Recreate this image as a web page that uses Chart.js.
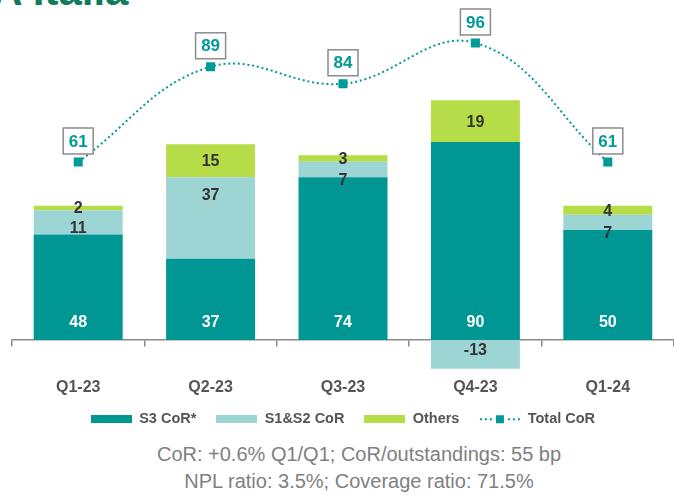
<!DOCTYPE html>
<html>
<head>
<meta charset="utf-8">
<script src="https://cdn.jsdelivr.net/npm/chart.js@4.4.1/dist/chart.umd.min.js"></script>
<style>
  body { margin: 0; width: 674px; height: 495px; overflow: hidden; background: #fff; position: relative; font-family: "Liberation Sans", Arial, sans-serif; }
  #heading { position: absolute; left: -38px; top: -30px; font-size: 42px; line-height: 42px; font-weight: bold; color: #127a5c; white-space: nowrap; }
  #wrap { position: absolute; left: 0; top: 0; width: 674px; height: 440px; }
  #notes { position: absolute; left: 0; top: 441px; width: 674px; padding-left: 44px; box-sizing: border-box; text-align: center; font-size: 20px; line-height: 27px; color: #7f7f7f; }
</style>
</head>
<body>
<div id="heading">CA Italia</div>
<div id="wrap"><canvas id="corChart"></canvas></div>
<div id="notes">CoR: +0.6% Q1/Q1; CoR/outstandings: 55 bp<br>NPL ratio: 3.5%; Coverage ratio: 71.5%</div>
<script>
// Data
const categories = ['Q1-23', 'Q2-23', 'Q3-23', 'Q4-23', 'Q1-24'];
const s3CoR = [48, 37, 74, 90, 50];
const s1s2CoR = [11, 37, 7, -13, 7];
const others = [2, 15, 3, 19, 4];
const totalCoR = [61, 89, 84, 96, 61];

const teal = '#009693';
const lightTeal = '#9dd5d5';
const lime = '#b6dc48';
const lineTeal = '#009a98';

Chart.defaults.font.family = '"Liberation Sans", Arial, sans-serif';

// legend swatches
function swatch(color) {
    const c = document.createElement('canvas');
    c.width = 41; c.height = 8;
    const g = c.getContext('2d');
    g.fillStyle = color;
    g.fillRect(0, 0, 41, 8);
    return c;
}
function lineSwatch() {
    const c = document.createElement('canvas');
    c.width = 42; c.height = 10;
    const g = c.getContext('2d');
    g.fillStyle = lineTeal;
    [1, 6, 11, 29, 34, 39].forEach(x => g.fillRect(x, 4, 2, 2));
    g.fillRect(17, 1, 8, 8);
    return c;
}
const legendStyles = [swatch(teal), swatch(lightTeal), swatch(lime), lineSwatch()];
const legendOrder = [1, 2, 3, 0]; // bars first, then the line

// value labels
const valueLabels = {
    id: 'valueLabels',
    afterDatasetsDraw(chart) {
        const ctx = chart.ctx;
        ctx.save();
        ctx.textAlign = 'center';
        ctx.textBaseline = 'middle';
        chart.data.datasets.forEach((ds, di) => {
            const meta = chart.getDatasetMeta(di);
            meta.data.forEach((el, i) => {
                const v = ds.data[i];
                if (ds.type === 'line') {
                    const cy = el.y - 21;
                    ctx.fillStyle = '#fff';
                    ctx.fillRect(el.x - 15, cy - 13, 30, 26);
                    ctx.strokeStyle = '#8c8c8c';
                    ctx.lineWidth = 1.5;
                    ctx.strokeRect(el.x - 15, cy - 13, 30, 26);
                    ctx.font = 'bold 17px "Liberation Sans", Arial';
                    ctx.fillStyle = lineTeal;
                    ctx.fillText(v, el.x, cy + 1);
                    return;
                }
                ctx.font = 'bold 16px "Liberation Sans", Arial';
                let y;
                if (di === 1) {
                    ctx.fillStyle = '#fff';
                    y = el.base - 17;
                } else if (di === 2) {
                    ctx.fillStyle = '#333';
                    y = v >= 0 ? el.y + 18.5 : el.y - 18;
                } else {
                    ctx.fillStyle = '#333';
                    y = (el.y + el.base) / 2 + 1;
                }
                ctx.fillText(v, el.x, y);
            });
        });
        ctx.restore();
    }
};

const ctx = document.getElementById('corChart').getContext('2d');
new Chart(ctx, {
    data: {
        labels: categories,
        datasets: [
            {
                type: 'line',
                label: 'Total CoR',
                data: totalCoR,
                yAxisID: 'y2',
                order: 0,
                borderColor: lineTeal,
                borderWidth: 2,
                borderDash: [2, 2.8],
                tension: 0.4,
                fill: false,
                pointStyle: 'rect',
                pointRadius: 6.4,
                pointBackgroundColor: lineTeal,
                pointBorderWidth: 0
            },
            {
                type: 'bar',
                label: 'S3 CoR*',
                data: s3CoR,
                backgroundColor: teal,
                order: 1
            },
            {
                type: 'bar',
                label: 'S1&S2 CoR',
                data: s1s2CoR,
                backgroundColor: lightTeal,
                order: 1
            },
            {
                type: 'bar',
                label: 'Others',
                data: others,
                backgroundColor: lime,
                order: 1
            }
        ]
    },
    options: {
        responsive: true,
        maintainAspectRatio: false,
        animation: false,
        layout: { autoPadding: false, padding: { left: 12, right: 0, top: 20, bottom: 3.5 } },
        datasets: {
            bar: { categoryPercentage: 1, barPercentage: 0.672 }
        },
        scales: {
            x: {
                stacked: true,
                position: { y: 0 },
                afterFit(scale) {
                    scale.paddingLeft = 0;
                    scale.paddingRight = 0;
                },
                grid: { offset: true, drawOnChartArea: false, tickLength: 6, color: '#8a8a8a', lineWidth: 1.5 },
                border: { display: true, color: '#8a8a8a', width: 1.5 },
                ticks: { padding: 32, color: '#555', font: { size: 16, weight: 'bold' } }
            },
            y: {
                stacked: true,
                display: false,
                min: -23.6,
                max: 145.45
            },
            y2: {
                display: false,
                min: -6.65,
                max: 102.76
            }
        },
        plugins: {
            tooltip: { enabled: false },
            legend: {
                position: 'bottom',
                labels: {
                    usePointStyle: true,
                    pointStyleWidth: 41,
                    padding: 20,
                    color: '#555',
                    font: { size: 14.5, weight: 'bold' },
                    sort: (a, b) => legendOrder.indexOf(a.datasetIndex) - legendOrder.indexOf(b.datasetIndex),
                    generateLabels(chart) {
                        const items = Chart.defaults.plugins.legend.labels.generateLabels(chart);
                        items.forEach(it => {
                            it.pointStyle = legendStyles[legendOrder.indexOf(it.datasetIndex)];
                        });
                        return items;
                    }
                }
            }
        }
    },
    plugins: [valueLabels]
});
</script>
</body>
</html>
